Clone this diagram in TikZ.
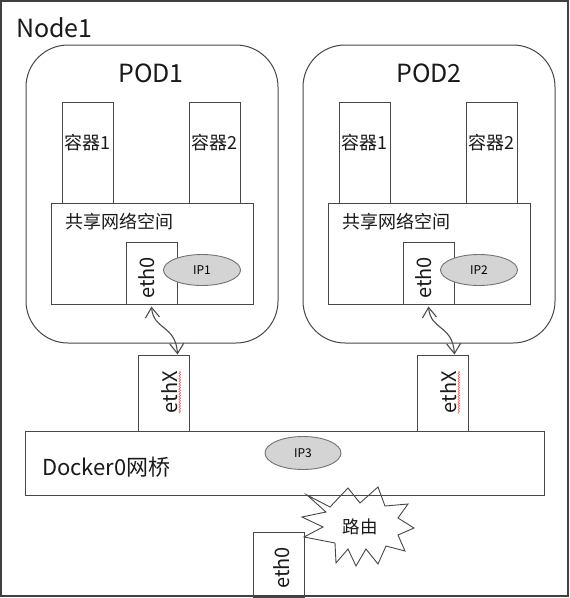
\documentclass[tikz,border=0pt]{standalone}
\usepackage{fontspec}
\setmainfont{Noto Sans CJK SC}
\usetikzlibrary{arrows.meta,calc,shapes.geometric,decorations.pathmorphing}
\begin{document}
\begin{tikzpicture}[x=1pt,y=-1pt,
  ln/.style={draw=black!72,line width=1pt},
  rbox/.style={ln,rectangle,inner sep=0pt,minimum width=51pt},
  podbox/.style={ln,rectangle,rounded corners=42pt,inner sep=0pt,minimum width=252pt,minimum height=298pt},
  ipell/.style={draw=black!55,line width=0.9pt,ellipse,fill=black!17,inner sep=0pt,minimum width=77pt,minimum height=31pt,font=\fontsize{12}{14}\selectfont},
  lbl/.style={inner sep=0pt,text=black!90},
  big/.style={lbl,font=\fontsize{25}{30}\selectfont},
  mid/.style={lbl,font=\fontsize{18}{22}\selectfont},
  vlbl/.style={lbl,rotate=90,font=\fontsize{20}{24}\selectfont},
  link/.style={draw=black!70,line width=1.1pt,{Straight Barb[length=10pt,width=14pt]}-{Straight Barb[length=10pt,width=14pt]}},
  squig/.style={draw=red!65,line width=0.6pt,decorate,decoration={snake,amplitude=0.8pt,segment length=2.6pt}}
]
\useasboundingbox (0,0) rectangle (570,598);
% outer frame
\draw[draw=black!75,line width=1.2pt] (1,1) rectangle (568,596);
\node[big,anchor=west] (node1) at (16,28) {Node1};

% POD1
\node[podbox] (pod1) at (152,194) {};
\node[big] (pod1t) at (151,73) {POD1};
\node[rbox,minimum height=101pt] (c11) at (87.5,152.5) {};
\node[rbox,minimum height=101pt] (c12) at (214.5,152.5) {};
\node[mid] at (87.5,143) {容器1};
\node[mid] at (214.5,143) {容器2};
\node[rbox,minimum width=202pt,minimum height=101pt] (sh1) at (152,253.5) {};
\node[mid,anchor=west] at (65,222) {共享网络空间};
\node[rbox,minimum height=62pt] (e01) at (151.5,273) {};
\node[vlbl] at (147,278) {eth0};
\node[ipell] (ip1) at (202,270) {IP1};

% POD2
\node[podbox] (pod2) at (429,194) {};
\node[big] (pod2t) at (429,73) {POD2};
\node[rbox,minimum height=101pt] (c21) at (364.5,152.5) {};
\node[rbox,minimum height=101pt] (c22) at (491.5,152.5) {};
\node[mid] at (364.5,143) {容器1};
\node[mid] at (491.5,143) {容器2};
\node[rbox,minimum width=202pt,minimum height=101pt] (sh2) at (429,253.5) {};
\node[mid,anchor=west] at (342,222) {共享网络空间};
\node[rbox,minimum height=62pt] (e02) at (428.5,273) {};
\node[vlbl] at (424,278) {eth0};
\node[ipell] (ip2) at (479,270) {IP2};

% ethX
\node[rbox,minimum height=76pt] (ex1) at (163.5,393) {};
\node[vlbl] (tx1) at (170,392) {ethX};
\draw[squig] ([xshift=1.5pt]tx1.south west) -- ([xshift=1.5pt]tx1.south east);
\node[rbox,minimum height=76pt] (ex2) at (442.5,393) {};
\node[vlbl] (tx2) at (449,392) {ethX};
\draw[squig] ([xshift=1.5pt]tx2.south west) -- ([xshift=1.5pt]tx2.south east);

% bridge
\node[rbox,minimum width=519pt,minimum height=64pt] (br) at (284.5,463) {};
\node[lbl,anchor=west,font=\fontsize{22}{26}\selectfont] (brt) at (42,467) {Docker0网桥};
\node[ipell,minimum width=76pt,minimum height=33pt] (ip3) at (303,453) {IP3};

% bottom eth0
\node[rbox,minimum height=65pt] (e0b) at (278.5,564.5) {};
\node[vlbl] at (282,568) {eth0};

% links
\coordinate (ex1t) at ($(ex1.north west)!0.77!(ex1.north east)$);
\coordinate (ex2t) at ($(ex2.north west)!0.73!(ex2.north east)$);
\draw[link] ([yshift=-2pt]e01.south) .. controls +(2,24) and +(-2,-30) .. (ex1t);
\draw[link] ([yshift=-2pt]e02.south) .. controls +(2,24) and +(-2,-30) .. (ex2t);

% starburst
\draw[ln,line width=0.9pt] (307,495) -- (330,507) -- (348,488) -- (360,503) -- (378,487) -- (385,506)
  -- (408,504) -- (398,518) -- (414,528) -- (398,535) -- (405,551) -- (386,546) -- (378,564)
  -- (366,549) -- (356,566) -- (348,549) -- (336,563) -- (335,543) -- (304,537) -- (323,527)
  -- (302,517) -- (326,512) -- cycle;
\node[lbl,font=\fontsize{17.5}{21}\selectfont] (route) at (360,527) {路由};
\end{tikzpicture}
\end{document}
